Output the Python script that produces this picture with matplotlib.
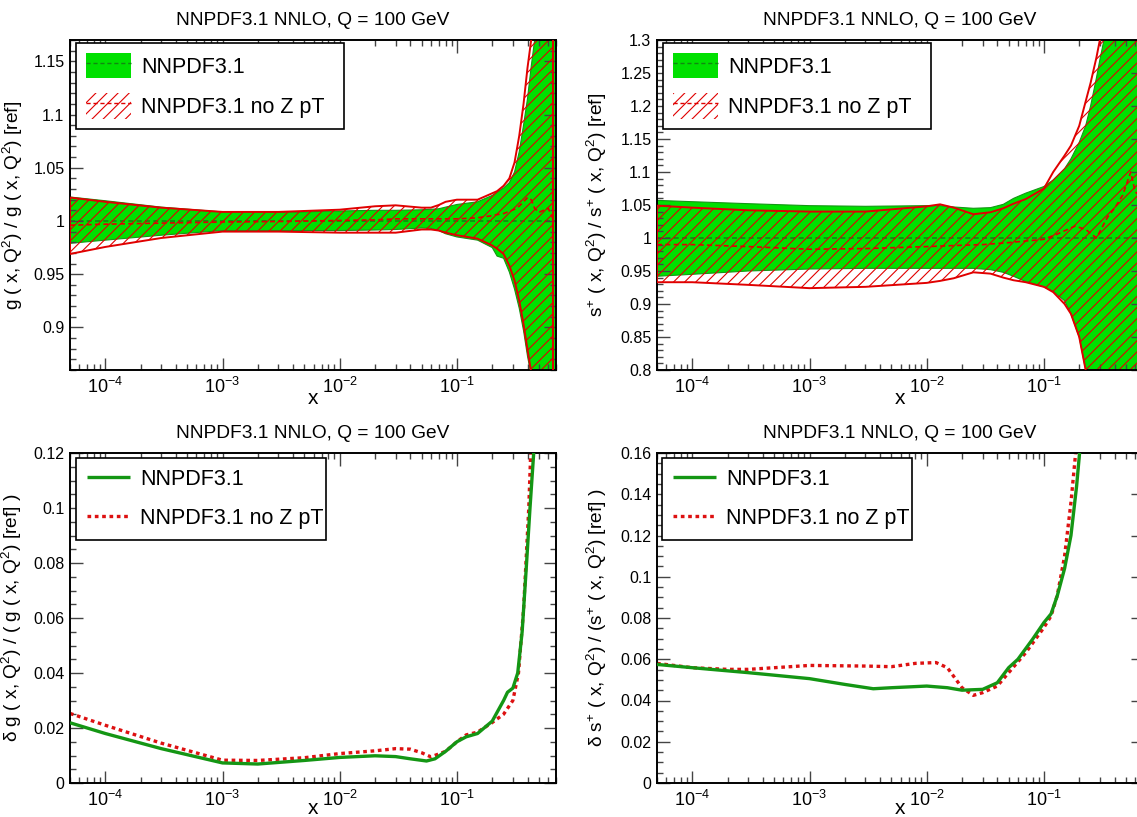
import numpy as np
import matplotlib
matplotlib.use("Agg")
import matplotlib.pyplot as plt
from matplotlib.patches import Patch
from matplotlib.lines import Line2D
from matplotlib.ticker import MultipleLocator, FuncFormatter, LogLocator

plt.rcParams['font.family'] = ['Liberation Sans', 'DejaVu Sans']
plt.rcParams['mathtext.fontset'] = 'custom'
plt.rcParams['mathtext.rm'] = 'Liberation Sans'
plt.rcParams['mathtext.it'] = 'Liberation Sans:italic'
plt.rcParams['hatch.linewidth'] = 0.8

GREEN = '#00e000'
GREEN_DK = '#149614'
RED = '#e00000'

TITLE = "NNPDF3.1 NNLO, Q = 100 GeV"
LABEL_A = "NNPDF3.1"
LABEL_B = "NNPDF3.1 no Z pT"

# ---- gluon ratio (top left) ----
g_x = [5e-5, 1e-4, 3e-4, 1e-3, 3e-3, 1e-2, 2e-2, 3e-2, 5e-2, 6e-2, 7e-2, 8e-2, 0.1,
       0.15, 0.2, 0.22, 0.25, 0.28, 0.31, 0.34, 0.37, 0.40, 0.43, 0.46, 0.5, 0.6, 0.7]
g_up = [1.0225, 1.019, 1.013, 1.0085, 1.008, 1.0094, 1.010, 1.010, 1.0105, 1.011, 1.0115, 1.013, 1.0155,
        1.018, 1.024, 1.027, 1.031, 1.036, 1.046, 1.065, 1.09, 1.115, 1.145, 1.17, 1.22, 1.35, 1.5]
g_lo = [0.979, 0.982, 0.9866, 0.991, 0.991, 0.991, 0.9915, 0.992, 0.9934, 0.993, 0.991, 0.988, 0.985,
        0.982, 0.975, 0.967, 0.965, 0.952, 0.936, 0.918, 0.897, 0.873, 0.855, 0.84, 0.8, 0.7, 0.6]

gr_x = [5e-5, 1e-4, 3e-4, 1e-3, 3e-3, 1e-2, 2e-2, 3e-2, 5e-2, 6e-2, 7e-2, 8e-2, 0.1,
        0.15, 0.2, 0.22, 0.25, 0.28, 0.31, 0.34, 0.37, 0.40, 0.43, 0.46, 0.5, 0.6, 0.66]
gr_up = [1.022, 1.018, 1.0125, 1.0085, 1.0085, 1.0106, 1.0138, 1.0147, 1.0125, 1.0125, 1.015, 1.018, 1.020,
         1.020, 1.026, 1.028, 1.033, 1.040, 1.055, 1.080, 1.110, 1.144, 1.17, 1.2, 1.25, 1.4, 1.5]
gr_lo = [0.969, 0.9756, 0.984, 0.990, 0.990, 0.989, 0.989, 0.989, 0.992, 0.992, 0.991, 0.989, 0.9866,
         0.9834, 0.977, 0.974, 0.969, 0.958, 0.944, 0.925, 0.903, 0.879, 0.858, 0.83, 0.8, 0.7, 0.6]
gr_c = [0.996, 0.997, 0.998, 0.999, 0.9995, 1.0005, 1.001, 1.002, 1.002, 1.002, 1.002, 1.002, 1.002,
        1.003, 1.005, 1.006, 1.007, 1.009, 1.011, 1.014, 1.018, 1.022, 1.02, 1.012, 1.008, 1.012, 1.002]

# ---- s+ ratio (top right) ----
s_x = [5e-5, 1e-4, 3e-4, 1e-3, 3e-3, 1e-2, 1.3e-2, 1.7e-2, 2.5e-2, 3.5e-2, 4.5e-2, 5.5e-2, 7e-2, 0.1,
       0.12, 0.15, 0.17, 0.2, 0.227, 0.25, 0.28, 0.30, 0.325, 0.35, 0.4, 0.5, 0.7]
s_up = [1.057, 1.055, 1.052, 1.049, 1.048, 1.049, 1.049, 1.047, 1.045, 1.046, 1.051, 1.060, 1.068, 1.078,
        1.088, 1.105, 1.12, 1.145, 1.17, 1.20, 1.242, 1.27, 1.30, 1.33, 1.4, 1.6, 2.0]
s_lo = [0.942, 0.945, 0.95, 0.953, 0.954, 0.954, 0.954, 0.954, 0.954, 0.952, 0.948, 0.942, 0.934, 0.926,
        0.919, 0.905, 0.885, 0.85, 0.80, 0.76, 0.70, 0.66, 0.60, 0.55, 0.45, 0.2, 0.0]
sr_up = [1.049, 1.046, 1.042, 1.040, 1.040, 1.048, 1.051, 1.046, 1.036, 1.039, 1.045, 1.052, 1.059, 1.075,
         1.10, 1.125, 1.14, 1.17, 1.207, 1.235, 1.273, 1.30, 1.33, 1.36, 1.45, 1.6, 2.0]
sr_lo = [0.933, 0.933, 0.929, 0.924, 0.926, 0.932, 0.935, 0.939, 0.948, 0.946, 0.940, 0.936, 0.933, 0.926,
         0.918, 0.90, 0.885, 0.85, 0.80, 0.76, 0.70, 0.66, 0.60, 0.55, 0.45, 0.2, 0.0]
sc_x = [5e-5, 1e-4, 3e-4, 1e-3, 3e-3, 1e-2, 2e-2, 3e-2, 5e-2, 0.1, 0.13, 0.184, 0.227, 0.28,
        0.35, 0.4, 0.47, 0.55, 0.6, 0.7]
sc_c = [0.990, 0.990, 0.987, 0.983, 0.984, 0.987, 0.989, 0.990, 0.993, 0.998, 1.006, 1.018, 1.013, 1.0,
        1.032, 1.045, 1.065, 1.10, 1.07, 1.06]

# ---- relative uncertainty gluon (bottom left) ----
dg_x = [5e-5, 1e-4, 3e-4, 1e-3, 2e-3, 5e-3, 1e-2, 2e-2, 3e-2, 4e-2, 5.5e-2, 6.5e-2, 8e-2, 0.1,
        0.12, 0.15, 0.2, 0.25, 0.27, 0.30, 0.33, 0.36, 0.39, 0.42, 0.46]
dg_a = [0.0219, 0.0180, 0.0125, 0.0073, 0.0069, 0.0082, 0.0093, 0.0099, 0.0096, 0.0088, 0.0080, 0.0088, 0.0115, 0.0150,
        0.0168, 0.0180, 0.0225, 0.030, 0.033, 0.0345, 0.040, 0.055, 0.078, 0.100, 0.125]
dgr_x = [5e-5, 1e-4, 3e-4, 1e-3, 2e-3, 5e-3, 1e-2, 2e-2, 3e-2, 4e-2, 5e-2, 6e-2, 8e-2, 0.1,
         0.12, 0.15, 0.2, 0.25, 0.3, 0.335, 0.37, 0.41, 0.43]
dg_b = [0.0253, 0.021, 0.0145, 0.0083, 0.0082, 0.0092, 0.0107, 0.0117, 0.0125, 0.0123, 0.0110, 0.0095, 0.0115, 0.0150,
        0.0175, 0.0185, 0.022, 0.025, 0.030, 0.040, 0.063, 0.100, 0.125]

# ---- relative uncertainty s+ (bottom right) ----
ds_x = [5e-5, 1e-4, 3e-4, 1e-3, 2e-3, 3.5e-3, 5e-3, 1e-2, 1.5e-2, 2e-2, 3e-2, 4e-2, 5e-2, 6e-2,
        8e-2, 0.1, 0.115, 0.13, 0.15, 0.17, 0.19, 0.205]
ds_a = [0.0575, 0.0559, 0.0535, 0.0506, 0.0478, 0.0457, 0.0462, 0.047, 0.0462, 0.045, 0.0454, 0.0486, 0.0559, 0.060,
        0.0697, 0.0778, 0.082, 0.0908, 0.104, 0.120, 0.144, 0.165]
dsr_x = [5e-5, 1e-4, 2e-4, 3e-4, 5e-4, 1e-3, 3e-3, 5e-3, 8e-3, 1.2e-2, 1.5e-2, 2e-2, 2.5e-2, 3e-2,
         4e-2, 5e-2, 7e-2, 0.1, 0.115, 0.13, 0.15, 0.17, 0.19]
ds_b = [0.058, 0.0559, 0.0551, 0.0551, 0.0559, 0.057, 0.0567, 0.0564, 0.058, 0.0584, 0.0559, 0.0462, 0.0425, 0.0438,
        0.047, 0.0535, 0.0632, 0.0754, 0.081, 0.091, 0.110, 0.136, 0.165]


def style_axis(ax, ymin, ymax, ymaj, ymin_step):
    ax.set_xscale('log')
    ax.set_xlim(5e-5, 0.7)
    ax.set_ylim(ymin, ymax)
    ax.xaxis.set_major_locator(LogLocator(base=10, numticks=20))
    ax.xaxis.set_minor_locator(LogLocator(base=10, subs=np.arange(2, 10), numticks=40))
    ax.yaxis.set_major_locator(MultipleLocator(ymaj))
    ax.yaxis.set_minor_locator(MultipleLocator(ymin_step))
    ax.yaxis.set_major_formatter(FuncFormatter(lambda v, p: "%g" % round(v, 4)))
    ax.tick_params(which='both', direction='in', top=True, right=True, color='#444444')
    ax.tick_params(which='major', length=9, width=1)
    ax.tick_params(which='minor', length=4.5, width=1)
    ax.tick_params(axis='y', labelsize=11.5, pad=4)
    ax.tick_params(axis='x', labelsize=13, pad=5)
    for s in ax.spines.values():
        s.set_linewidth(1.4)
    ax.text(0.5, 1.06, TITLE, transform=ax.transAxes, ha='center', va='center', fontsize=13.8)
    ax.set_xlabel('x', fontsize=15)
    ax.xaxis.set_label_coords(0.5, -0.085)
    ax.xaxis.label.set_va('center')


def band_plot(ax, xa, up_a, lo_a, xb, up_b, lo_b, xc, cen_b):
    ax.fill_between(xa, lo_a, up_a, facecolor=GREEN, edgecolor='none', zorder=1)
    ax.plot(xa, up_a, color=GREEN_DK, lw=0.8, zorder=1.2)
    ax.plot(xa, lo_a, color=GREEN_DK, lw=0.8, zorder=1.2)
    ax.axhline(1.0, color='#118811', lw=1.2, ls=(0, (3, 2)), zorder=1.5)
    ax.fill_between(xb, lo_b, up_b, facecolor='none', edgecolor=RED, hatch='///', linewidth=0, zorder=2)
    ax.fill(np.r_[xb, xb[::-1]], np.r_[up_b, lo_b[::-1]], fill=False, edgecolor=RED, lw=1.4, zorder=3)
    ax.plot(xc, cen_b, color=RED, lw=1.2, ls=(0, (3, 2)), zorder=3)
    h_a = (Patch(facecolor=GREEN, edgecolor='none'), Line2D([], [], color='#118811', lw=1.0, ls=(0, (3, 2))))
    h_b = (Patch(facecolor='none', edgecolor=RED, hatch='///', linewidth=0), Line2D([], [], color=RED, lw=1.0, ls=(0, (3, 2))))
    leg = ax.legend([h_a, h_b], [LABEL_A, LABEL_B], loc='upper left', bbox_to_anchor=(0.012, 0.0, 0.552, 0.991),
                    mode='expand', fontsize=15.5, handlelength=2.1, handleheight=1.45, labelspacing=0.7,
                    borderpad=0.45, handletextpad=0.5, fancybox=False, framealpha=1, edgecolor='black',
                    borderaxespad=0)
    leg.get_frame().set_linewidth(1.2)
    leg.set_zorder(10)


def err_plot(ax, xa, da, xb, db, x0):
    ax.plot(xa, da, color=GREEN_DK, lw=2.4, solid_capstyle='butt', zorder=3, label=LABEL_A)
    ax.plot(xb, db, color='#dd1111', lw=2.4, ls=(0, (1.1, 1.1)), zorder=2, label=LABEL_B)
    leg = ax.legend(loc='upper left', bbox_to_anchor=(x0, 0.0, 0.515, 0.985), mode='expand',
                    fontsize=15.5, handlelength=2.0, labelspacing=0.85, borderpad=0.5, handletextpad=0.5,
                    fancybox=False, framealpha=1, edgecolor='black', borderaxespad=0)
    leg.get_frame().set_linewidth(1.2)
    leg.set_zorder(10)


W, H = 1137, 817
fig = plt.figure(figsize=(W / 100, H / 100), dpi=100)
aw, ah = 486 / W, 330 / H
ax1 = fig.add_axes([70 / W, (H - 370) / H, aw, ah])
ax2 = fig.add_axes([657 / W, (H - 370) / H, aw, ah])
ax3 = fig.add_axes([70 / W, (H - 783) / H, aw, ah])
ax4 = fig.add_axes([657 / W, (H - 783) / H, aw, ah])

band_plot(ax1, g_x, np.array(g_up), np.array(g_lo), np.array(gr_x), np.array(gr_up), np.array(gr_lo), gr_x, gr_c)
style_axis(ax1, 0.86, 1.17, 0.05, 0.01)
ax1.set_ylabel(r'g ( x, Q$^{\mathrm{2}}$) / g ( x, Q$^{\mathrm{2}}$) [ref]', fontsize=13.8)
ax1.yaxis.set_label_coords(-0.093, 0.5)

band_plot(ax2, s_x, np.array(s_up), np.array(s_lo), np.array(s_x), np.array(sr_up), np.array(sr_lo), sc_x, sc_c)
style_axis(ax2, 0.8, 1.3, 0.05, 0.01)
ax2.set_ylabel(r's$^{+}$ ( x, Q$^{\mathrm{2}}$) / s$^{+}$ ( x, Q$^{\mathrm{2}}$) [ref]', fontsize=13.8)
ax2.yaxis.set_label_coords(-0.099, 0.5)

err_plot(ax3, dg_x, dg_a, dgr_x, dg_b, 0.012)
style_axis(ax3, 0, 0.12, 0.02, 0.005)
ax3.set_ylabel(r'δ g ( x, Q$^{\mathrm{2}}$) / ( g ( x, Q$^{\mathrm{2}}$) [ref] )', fontsize=13.8)
ax3.yaxis.set_label_coords(-0.095, 0.5)
ax3.xaxis.set_label_coords(0.5, -0.076)

err_plot(ax4, ds_x, ds_a, dsr_x, ds_b, 0.01)
style_axis(ax4, 0, 0.16, 0.02, 0.005)
ax4.set_ylabel(r'δ s$^{+}$ ( x, Q$^{\mathrm{2}}$) / (s$^{+}$ ( x, Q$^{\mathrm{2}}$) [ref] )', fontsize=13.8)
ax4.yaxis.set_label_coords(-0.099, 0.5)
ax4.xaxis.set_label_coords(0.5, -0.076)

fig.savefig("out.png", dpi=100)
